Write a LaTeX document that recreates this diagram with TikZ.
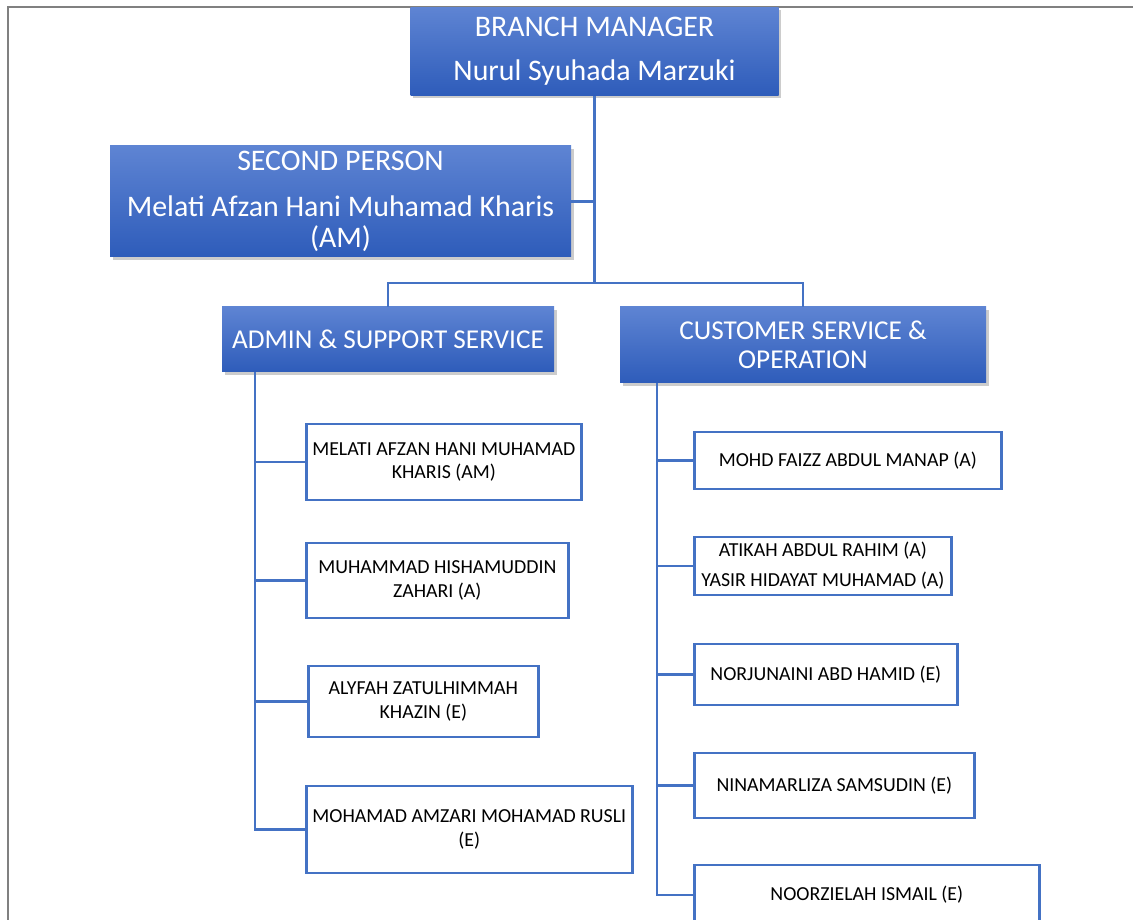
\documentclass[tikz,border=0pt]{standalone}
\usepackage{fontspec}
\setmainfont{Carlito}
\usetikzlibrary{arrows.meta, positioning, shadows}
\definecolor{linkblue}{RGB}{68,114,196}
\definecolor{headtop}{RGB}{94,132,211}
\definecolor{headbottom}{RGB}{46,92,186}
\definecolor{framegray}{RGB}{128,128,128}

\begin{document}
\begin{tikzpicture}[
    head/.style={top color=headtop, bottom color=headbottom, text=white, align=center, inner sep=2pt, drop shadow={shadow xshift=0.05cm, shadow yshift=-0.06cm, opacity=0.4}},
    bighead/.style={head, font=\fontsize{17}{18}\selectfont},
    unithead/.style={head, font=\fontsize{15.5}{16.4}\selectfont},
    staff/.style={draw=linkblue, line width=1.5pt, fill=white, align=center, inner sep=1pt, anchor=west, font=\fontsize{11.3}{13.2}\selectfont},
    link/.style={draw=linkblue, line width=1.3pt}
]
    \useasboundingbox (0,0) rectangle (22.66,-18.40);
    \clip (0,0) rectangle (22.66,-18.40);

    % page frame
    \draw[framegray, line width=1.2pt] (22.66,-0.14) -- (0.16,-0.14) -- (0.16,-18.40);

    % Top of the chart
    \node[bighead, minimum width=7.36cm, minimum height=1.76cm] (manager) at (11.89,-1.03) {BRANCH MANAGER\\[7pt]Nurul Syuhada Marzuki};
    \node[bighead, minimum width=9.22cm, minimum height=2.22cm] (second) at (6.81,-4.03) {SECOND PERSON\\[8pt]Melati Afzan Hani Muhamad Kharis\\(AM)};

    % Units
    \node[unithead, minimum width=6.64cm, minimum height=1.30cm] (admin) at (7.76,-6.79) {ADMIN \& SUPPORT SERVICE};
    \node[unithead, minimum width=7.32cm, minimum height=1.52cm] (custops) at (16.06,-6.90) {CUSTOMER SERVICE \&\\OPERATION};

    % Admin staff
    \node[staff, minimum width=5.50cm, minimum height=1.52cm] (adm1) at (6.10,-9.24) {MELATI AFZAN HANI MUHAMAD\\KHARIS (AM)};
    \node[staff, minimum width=5.24cm, minimum height=1.50cm] (adm2) at (6.10,-11.61) {MUHAMMAD HISHAMUDDIN\\ZAHARI (A)};
    \node[staff, minimum width=4.60cm, minimum height=1.42cm] (adm3) at (6.14,-14.03) {ALYFAH ZATULHIMMAH\\KHAZIN (E)};
    \node[staff, minimum width=6.52cm, minimum height=1.74cm] (adm4) at (6.10,-16.59) {MOHAMAD AMZARI MOHAMAD RUSLI\\(E)};

    % Customer service staff
    \node[staff, minimum width=6.14cm, minimum height=1.14cm] (cso1) at (13.86,-9.21) {MOHD FAIZZ ABDUL MANAP (A)};
    \node[staff, minimum width=5.14cm, minimum height=1.16cm] (cso2) at (13.86,-11.32) {ATIKAH ABDUL RAHIM (A)\\[4pt]YASIR HIDAYAT MUHAMAD (A)};
    \node[staff, minimum width=5.26cm, minimum height=1.22cm] (cso3) at (13.86,-13.49) {NORJUNAINI ABD HAMID (E)};
    \node[staff, minimum width=5.60cm, minimum height=1.30cm] (cso4) at (13.86,-15.71) {NINAMARLIZA SAMSUDIN (E)};
    \node[staff, minimum width=6.90cm, minimum height=1.20cm] (cso5) at (13.86,-17.90) {NOORZIELAH ISMAIL (E)};

    % Connectors
    \coordinate (mgrbus) at (11.89,-5.66);
    \draw[link] (manager.south) -- (mgrbus);
    \draw[link] (second.east) -- (second.east -| manager.south);
    \draw[link] (admin.north) |- (mgrbus) -| (custops.north);

    \coordinate (admtrunk) at (5.10,-7.44);
    \draw[link] (admtrunk) |- (adm4.west);
    \foreach \n in {adm1,adm2,adm3}
        \draw[link] (\n.west -| admtrunk) -- (\n.west);

    \coordinate (csotrunk) at (13.14,-7.66);
    \draw[link] (csotrunk) |- (cso5.west);
    \foreach \n in {cso1,cso2,cso3,cso4}
        \draw[link] (\n.west -| csotrunk) -- (\n.west);
\end{tikzpicture}
\end{document}
